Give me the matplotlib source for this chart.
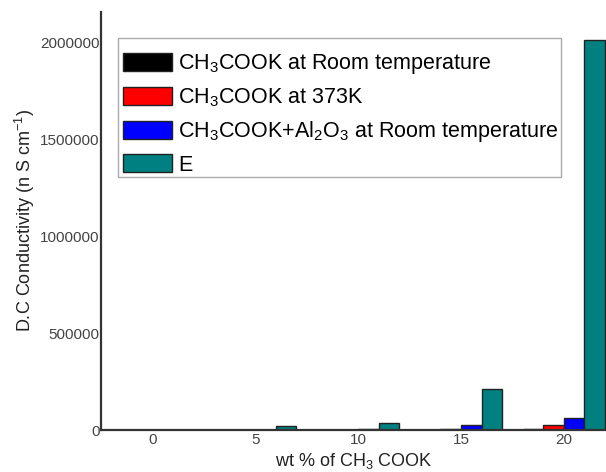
import matplotlib
matplotlib.use("Agg")
import matplotlib.pyplot as plt
from matplotlib.patches import Rectangle
import numpy as np

plt.rcParams['font.family'] = ['Liberation Sans', 'DejaVu Sans']
plt.rcParams['mathtext.fontset'] = 'custom'
plt.rcParams['mathtext.rm'] = 'Liberation Sans'
plt.rcParams['mathtext.it'] = 'Liberation Sans:italic'
plt.rcParams['mathtext.bf'] = 'Liberation Sans:bold'

categories = ['0', '5', '10', '15', '20']
series_labels = [
    r'CH$_3$COOK at Room temperature',
    r'CH$_3$COOK at 373K',
    r'CH$_3$COOK+Al$_2$O$_3$ at Room temperature',
    'E',
]
room_temp = [0, 0, 300, 1500, 3000]
temp_373 = [0, 0, 800, 3000, 25000]
with_al2o3 = [0, 500, 3000, 26000, 62000]
e_values = [0, 20000, 36000, 211000, 2010000]
colors = ['#000000', '#ff0000', '#0000ff', '#008080']
yticks = [0, 500000, 1000000, 1500000, 2000000]

W, H = 606, 472
fig = plt.figure(figsize=(W / 100, H / 100), dpi=100)
ax = fig.add_axes([101/W, 1 - 430/H, 505/W, 418/H])

x = np.arange(len(categories))
width = 0.2
offsets = [-0.3, -0.1, 0.1, 0.3]
for vals, lab, c, off in zip([room_temp, temp_373, with_al2o3, e_values],
                              series_labels, colors, offsets):
    ax.bar(x + off, vals, width, color=c, edgecolor='#222222', linewidth=1.0, label=lab)

ax.set_xlim(-0.5, 4.41)
ax.set_ylim(0, 2155000)
ax.set_xticks(x)
ax.set_xticklabels(categories)
ax.set_yticks(yticks)
ax.set_yticklabels([str(v) for v in yticks])
ax.tick_params(axis='both', length=0, labelsize=11, colors='#444444')
ax.tick_params(axis='y', pad=1)
ax.tick_params(axis='x', pad=2)
for s in ['top', 'right']:
    ax.spines[s].set_visible(False)
for s in ['left', 'bottom']:
    ax.spines[s].set_linewidth(1.6)
    ax.spines[s].set_color('#333333')

ax.set_ylabel(r'D.C Conductivity (n S cm$^{-1}$)', fontsize=13, color='#222222', labelpad=2)
ax.set_xlabel(r'wt % of CH$_3$ COOK', fontsize=13, color='#222222', labelpad=3)

# legend frame placed in figure pixels
frame = Rectangle((118/W, 1 - 177/H), (561-118)/W, (177-38)/H,
                  transform=fig.transFigure, fill=True, facecolor='white',
                  edgecolor='#aaaaaa', linewidth=1.0, zorder=5, clip_on=False)
ax.add_patch(frame)

leg = ax.legend(loc='upper left', bbox_to_anchor=(123/W, 1 - 52.5/H),
                bbox_transform=fig.transFigure, fontsize=15.5,
                frameon=False, handlelength=2.28, handleheight=0.88,
                labelspacing=0.47, handletextpad=0.28, borderpad=0, borderaxespad=0)
leg.set_zorder(6)

fig.savefig('out.png', dpi=100)
